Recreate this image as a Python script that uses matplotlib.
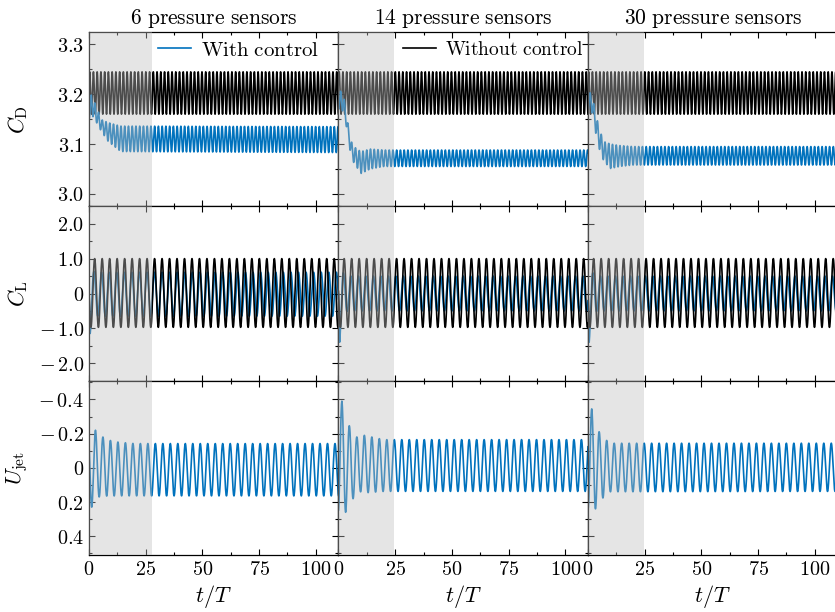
import numpy as np
import matplotlib
matplotlib.use("Agg")
import matplotlib.pyplot as plt
from matplotlib.ticker import MultipleLocator, FuncFormatter

plt.rcParams['mathtext.fontset'] = 'cm'
plt.rcParams['font.family'] = ['DejaVu Serif']
plt.rcParams['font.size'] = 11

# ---------------- data ----------------
titles = ["6 pressure sensors", "14 pressure sensors", "30 pressure sensors"]
shade_end = [27.6, 24.5, 24.5]
t_end = 110.0

period_cl = 3.3          # lift / jet period in t/T
period_cd = 1.65         # drag oscillates at twice the lift frequency

# without control (baseline)
cd_base_max = 3.245
cd_base_min = 3.160
cl_base_max = 1.00
cl_base_min = -0.97
cl_base_trough = 0.85

# with control: drag envelope knots (time, upper, lower) per column
cd_t1 = [0, 1, 2.5, 5.5, 8.5, 14, 110]
cd_up1 = [3.17, 3.20, 3.183, 3.149, 3.143, 3.136, 3.135]
cd_lo1 = [3.15, 3.16, 3.150, 3.125, 3.105, 3.085, 3.083]

cd_t2 = [0, 1.5, 3, 4.5, 6, 8, 10, 14, 20, 110]
cd_up2 = [3.20, 3.21, 3.18, 3.13, 3.10, 3.09, 3.085, 3.09, 3.088, 3.088]
cd_lo2 = [3.17, 3.17, 3.15, 3.10, 3.068, 3.054, 3.041, 3.05, 3.055, 3.055]

cd_t3 = [0, 1.5, 3, 5, 7, 10, 14, 20, 110]
cd_up3 = [3.20, 3.205, 3.17, 3.13, 3.105, 3.10, 3.097, 3.095, 3.095]
cd_lo3 = [3.17, 3.17, 3.13, 3.09, 3.065, 3.051, 3.055, 3.058, 3.058]

# with control: lift envelope knots
cl_t1 = [0, 0.5, 1.5, 3, 110]
cl_up1 = [0, 0.60, 0.65, 0.61, 0.61]
cl_lo1 = [0, -1.15, -0.80, -0.65, -0.65]
cl_period1 = 3.34

cl_t23 = [0, 0.5, 2, 4, 110]
cl_up23 = [0, 0.65, 0.60, 0.50, 0.50]
cl_lo23 = [0, -1.40, -0.65, -0.50, -0.50]
cl_trough = 0.5

# with control: jet velocity, knots of positive (max) and negative (min) peaks
uj_tmax = [1.2, 3.15, 3.3]
uj_max_t1 = [0, 1.2, 4.5, 7.8, 12, 20, 110]
uj_max_v1 = [0.23, 0.23, 0.17, 0.165, 0.164, 0.164, 0.164]
uj_min_t1 = [0, 2.85, 6.15, 9.45, 13, 20, 110]
uj_min_v1 = [-0.22, -0.22, -0.18, -0.16, -0.15, -0.142, -0.142]

uj_max_t2 = [0, 3.15, 6.45, 9.75, 13, 20, 110]
uj_max_v2 = [0.26, 0.26, 0.18, 0.14, 0.145, 0.138, 0.138]
uj_min_t2 = [0, 1.5, 4.8, 8.1, 11.4, 20, 110]
uj_min_v2 = [-0.39, -0.39, -0.245, -0.18, -0.19, -0.165, -0.165]

uj_max_t3 = [0, 3.3, 6.6, 9.9, 110]
uj_max_v3 = [0.24, 0.24, 0.176, 0.14, 0.138]
uj_min_t3 = [0, 1.65, 4.95, 8.25, 11.5, 110]
uj_min_v3 = [-0.345, -0.345, -0.21, -0.16, -0.144, -0.144]

# ---------------- helpers ----------------
t = np.linspace(0, t_end, 8000)


def osc(tk_up, v_up, tk_lo, v_lo, period, t_peak):
    up = np.interp(t, tk_up, v_up)
    lo = np.interp(t, tk_lo, v_lo)
    return 0.5 * (up + lo) + 0.5 * (up - lo) * np.cos(2 * np.pi * (t - t_peak) / period)


cd_base = osc([0, t_end], [cd_base_max] * 2, [0, t_end], [cd_base_min] * 2, period_cd, 0.3)
cl_base = osc([0, t_end], [cl_base_max] * 2, [0, t_end], [cl_base_min] * 2, period_cl,
              cl_base_trough + period_cl / 2)

cd_ctrl = [osc(cd_t1, cd_up1, cd_t1, cd_lo1, period_cd, 0.9),
           osc(cd_t2, cd_up2, cd_t2, cd_lo2, period_cd, 0.9),
           osc(cd_t3, cd_up3, cd_t3, cd_lo3, period_cd, 0.9)]
cl_ctrl = [osc(cl_t1, cl_up1, cl_t1, cl_lo1, cl_period1, cl_trough + cl_period1 / 2),
           osc(cl_t23, cl_up23, cl_t23, cl_lo23, period_cl, cl_trough + period_cl / 2),
           osc(cl_t23, cl_up23, cl_t23, cl_lo23, period_cl, cl_trough + period_cl / 2)]
uj_ctrl = [osc(uj_max_t1, uj_max_v1, uj_min_t1, uj_min_v1, period_cl, uj_tmax[0]),
           osc(uj_max_t2, uj_max_v2, uj_min_t2, uj_min_v2, period_cl, uj_tmax[1]),
           osc(uj_max_t3, uj_max_v3, uj_min_t3, uj_min_v3, period_cl, uj_tmax[2])]

BLUE = '#0072BD'
LW = 1.2

fig = plt.figure(figsize=(8.35, 6.12), dpi=100)
gs = fig.add_gridspec(3, 3, left=89 / 835, right=837.5 / 835, top=1 - 32 / 612,
                      bottom=1 - 555 / 612, hspace=0, wspace=0)


def fmt(v, pos):
    if abs(v) < 1e-9:
        return r'$0$'
    if v < 0:
        return r'$-\,%.1f$' % abs(v)
    return r'$%.1f$' % v


ylims = [(2.975, 3.325), (-2.5, 2.5), (0.51, -0.51)]
majors = [0.1, 1.0, 0.2]
minors = [0.05, 0.5, 0.1]
ylabels = [r'$C_{\mathrm{D}}$', r'$C_{\mathrm{L}}$', r'$U_{\mathrm{jet}}$']
leg_items = []

for c in range(3):
    for r in range(3):
        ax = fig.add_subplot(gs[r, c])
        if r == 0:
            hb, = ax.plot(t, cd_base, color='black', lw=LW, zorder=2)
            hc, = ax.plot(t, cd_ctrl[c], color=BLUE, lw=LW, zorder=2)
            if c == 0:
                leg_items = [hc, hb]
            ax.set_title(r'$\mathrm{%s}$' % titles[c].replace(' ', r'\ '), fontsize=15.5, pad=6)
        elif r == 1:
            ax.plot(t, cl_ctrl[c], color=BLUE, lw=LW, zorder=2)
            ax.plot(t, cl_base, color='black', lw=LW, zorder=2)
        else:
            ax.plot(t, uj_ctrl[c], color=BLUE, lw=LW, zorder=2)
        ax.axvspan(0, shade_end[c], color=(0.75, 0.75, 0.75), alpha=0.4, lw=0, zorder=3)
        ax.set_xlim(0, t_end)
        ax.set_ylim(*ylims[r])
        ax.xaxis.set_major_locator(MultipleLocator(25))
        ax.xaxis.set_minor_locator(MultipleLocator(12.5))
        ax.yaxis.set_major_locator(MultipleLocator(majors[r]))
        ax.yaxis.set_minor_locator(MultipleLocator(minors[r]))
        ax.yaxis.set_major_formatter(FuncFormatter(fmt))
        ax.xaxis.set_major_formatter(FuncFormatter(lambda v, p: r'$%d$' % v))
        ax.tick_params(which='both', direction='in', top=True, right=(c != 2), labelsize=14.5)
        ax.tick_params(which='major', length=4.5, width=0.8)
        ax.tick_params(which='minor', length=2.5, width=0.8)
        for s in ax.spines.values():
            s.set_linewidth(0.9)
        if c != 0:
            ax.tick_params(labelleft=False)
        else:
            ax.set_ylabel(ylabels[r], fontsize=16)
            ax.yaxis.set_label_coords(-0.235, 0.5)
        if r != 2:
            ax.tick_params(labelbottom=False)
        else:
            ax.set_xlabel(r'$t/T$', fontsize=16, labelpad=3)

fig.legend([leg_items[0]], [r'$\mathrm{With\ control}$'], loc='center left',
           bbox_to_anchor=(0.1793, 1 - 50 / 612), frameon=False, fontsize=15,
           handlelength=1.6, borderaxespad=0, handletextpad=0.45)
fig.legend([leg_items[1]], [r'$\mathrm{Without\ control}$'], loc='center left',
           bbox_to_anchor=(0.4733, 1 - 50 / 612), frameon=False, fontsize=14,
           handlelength=1.7, borderaxespad=0, handletextpad=0.45)

fig.savefig('out.png', dpi=100)
